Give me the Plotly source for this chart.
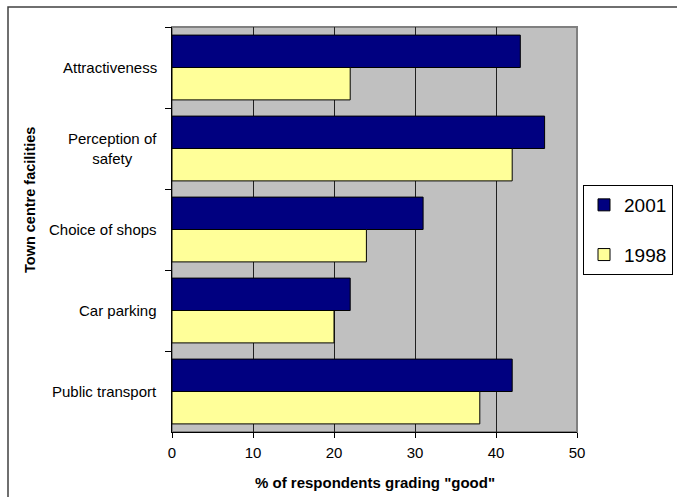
import plotly.graph_objects as go

# Survey results: share of respondents rating each town centre facility as "good"
facilities = ["Attractiveness", "Perception of<br>safety", "Choice of shops",
              "Car parking", "Public transport"]
pct_2001 = [43, 46, 31, 22, 42]
pct_1998 = [22, 42, 24, 20, 38]
x_ticks = [0, 10, 20, 30, 40, 50]

W, H = 677, 497
L, R, T, B = 172, 100, 27, 65
pw, ph = W - L - R, H - T - B

font_family = "Arial, Liberation Sans, sans-serif"

fig = go.Figure()
fig.add_trace(go.Bar(
    name="2001", y=facilities, x=pct_2001, orientation="h",
    marker=dict(color="#000080", line=dict(color="#000000", width=1)),
    legendgroup="a",
))
fig.add_trace(go.Bar(
    name="1998", y=facilities, x=pct_1998, orientation="h",
    marker=dict(color="#FFFF99", line=dict(color="#000000", width=1)),
    legendgroup="b",
))

# Category labels, centred line by line
annotations = []
for cat in facilities:
    annotations.append(dict(
        x=-13 / pw, xref="paper", y=cat, yref="y", text=cat,
        xanchor="right", yanchor="middle", align="center", showarrow=False,
        font=dict(family=font_family, size=15, color="#000000"),
    ))

# Axis titles
annotations.append(dict(
    x=(30 - L) / pw, xref="paper", y=(T + ph - 200) / ph, yref="paper",
    text="<b>Town centre facilities</b>", textangle=-90, showarrow=False,
    xanchor="center", yanchor="middle",
    font=dict(family=font_family, size=14.5, color="#000000"),
))
annotations.append(dict(
    x=0.5, xref="paper", y=-(482 - T - ph) / ph, yref="paper",
    text='<b>% of respondents grading "good"</b>', showarrow=False,
    xanchor="center", yanchor="middle",
    font=dict(family=font_family, size=15, color="#000000"),
))

shapes = [
    # plot area border
    dict(type="rect", xref="paper", yref="paper", x0=0, x1=1, y0=0, y1=1,
         line=dict(color="#808080", width=2), layer="below"),
    # outer chart frame
    dict(type="rect", xref="paper", yref="paper",
         x0=(8 - L) / pw, x1=(W + 10 - L) / pw,
         y0=-(H + 10 - T - ph) / ph, y1=(T + ph - 7) / ph,
         line=dict(color="#404040", width=1.5)),
]

fig.update_layout(
    width=W, height=H,
    margin=dict(l=L, r=R, t=T, b=B, autoexpand=False),
    paper_bgcolor="#FFFFFF",
    plot_bgcolor="#C0C0C0",
    barmode="group", bargap=0.2, bargroupgap=0,
    font=dict(family=font_family, size=15, color="#000000"),
    showlegend=True,
    legend=dict(
        x=(583 - L) / pw, xanchor="left",
        y=(T + ph - 185) / ph, yanchor="top",
        bgcolor="#FFFFFF", bordercolor="#000000", borderwidth=1,
        font=dict(family=font_family, size=19, color="#000000"),
        traceorder="grouped", tracegroupgap=22,
        itemwidth=30,
    ),
    annotations=annotations,
    shapes=shapes,
)

fig.update_xaxes(
    range=[0, 50], tickvals=x_ticks, ticktext=[str(v) for v in x_ticks],
    showgrid=True, gridcolor="#202020", gridwidth=1,
    showline=True, linecolor="#000000", linewidth=1,
    ticks="outside", ticklen=5, tickcolor="#000000", ticklabelstandoff=2,
    tickfont=dict(family=font_family, size=15), zeroline=False,
    fixedrange=True,
)
fig.update_yaxes(
    categoryorder="array", categoryarray=facilities,
    range=[len(facilities) - 0.5, -0.5],
    showticklabels=False, showgrid=False,
    showline=True, linecolor="#000000", linewidth=1,
    ticks="outside", ticklen=6, tickcolor="#000000", tickson="boundaries",
    fixedrange=True,
)

fig.write_html("out.html")
